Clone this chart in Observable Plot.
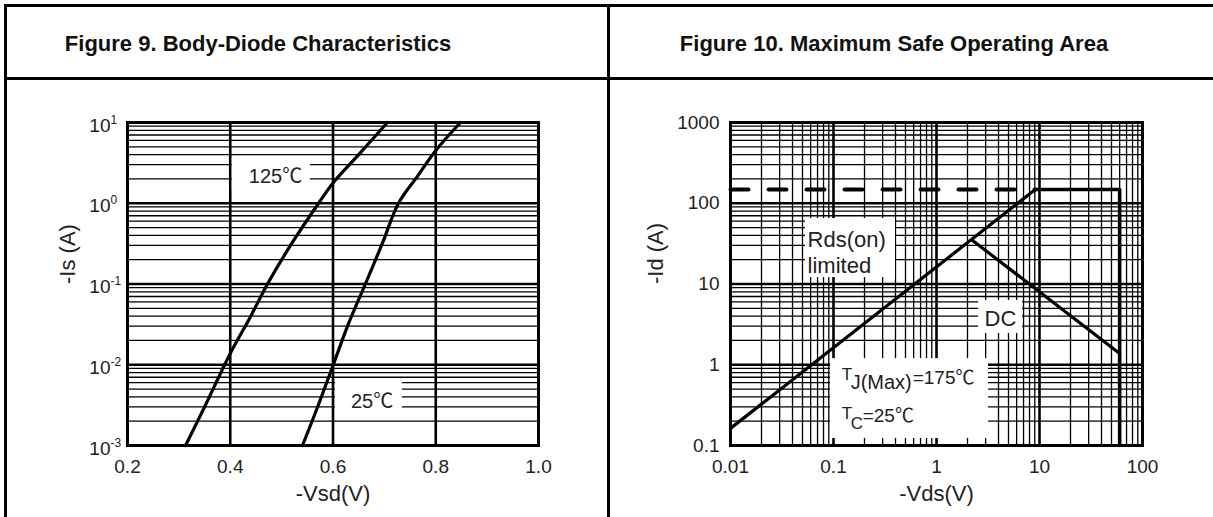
<!DOCTYPE html>
<html><head><meta charset="utf-8">
<script src="https://cdn.jsdelivr.net/npm/d3@7"></script>
<script src="https://cdn.jsdelivr.net/npm/@observablehq/plot@0.6"></script>
<style>
body{margin:0;background:#fff;}
#wrap{position:relative;width:1213px;height:517px;overflow:hidden;font-family:"Liberation Sans",Arial,sans-serif;background:#fff;}
.ln{position:absolute;background:#000;}
.title{position:absolute;font-weight:bold;font-size:22px;line-height:22px;top:33px;white-space:nowrap;color:#111;transform:translateX(-50%);}
.chart{position:absolute;top:70px;}
</style>
</head><body>
<div id="wrap">
  <div class="ln" style="left:4px;top:4px;width:1209px;height:3px"></div>
  <div class="ln" style="left:4px;top:77px;width:1209px;height:3px"></div>
  <div class="ln" style="left:4px;top:4px;width:3px;height:513px"></div>
  <div class="ln" style="left:607px;top:4px;width:3px;height:513px"></div>
  <div class="title" style="left:258px">Figure 9. Body-Diode Characteristics</div>
  <div class="title" style="left:894px">Figure 10. Maximum Safe Operating Area</div>
  <div class="chart" id="c1" style="left:0px"></div>
  <div class="chart" id="c2" style="left:610px"></div>
</div>
<script>
// ---------- Figure 9 data ----------
const vsdTicks = [0.2, 0.4, 0.6, 0.8, 1.0];
const vsdGrid = [0.4, 0.6, 0.8];
const isDecades = [-3, -2, -1, 0, 1];
const v125 = [0.313, 0.35, 0.4, 0.44, 0.4725, 0.52, 0.572, 0.6, 0.65, 0.706];
const i125 = [0.001, 0.003, 0.0138, 0.04, 0.1, 0.32, 1, 1.78, 4.0, 10];
const v25 = [0.5406, 0.57, 0.6, 0.63, 0.663, 0.696, 0.7275, 0.765, 0.8, 0.848];
const i25 = [0.001, 0.003, 0.0098, 0.032, 0.1, 0.318, 1, 2.18, 4.5, 10];
const curveLabels = ["125℃", "25℃"];
const curveLabelV = [0.488, 0.676];
const curveLabelI = [2.14, 0.00346];
const curveBoxV1 = [0.404, 0.605];
const curveBoxV2 = [0.556, 0.735];
const curveBoxI1 = [1.44, 0.00235];
const curveBoxI2 = [3.58, 0.00638];

// ---------- Figure 10 data ----------
const vdsTicks = [0.01, 0.1, 1, 10, 100];
const idTicks = [0.1, 1, 10, 100, 1000];
const rdsV = [0.01, 9.1];
const rdsI = [0.163, 148];
const limV = [0.01, 9.1];
const limI = [148, 148];
const pkgV = [9.1, 60, 60];
const pkgI = [148, 148, 0.1];
const dcV = [2.24, 60];
const dcI = [34.6, 1.38];

const FONT = "Liberation Sans, Arial, Noto Sans CJK SC, sans-serif";
const pts = (xs, ys) => xs.map((x, i) => ({x, y: ys[i]}));
const minorOf = (decs) => decs.slice(0, -1).flatMap(e => d3.range(2, 10).map(k => k * 10 ** e));

// ---------------- Figure 9 ----------------
const boxes1 = curveLabels.map((t, i) => ({x1: curveBoxV1[i], x2: curveBoxV2[i], y1: curveBoxI1[i], y2: curveBoxI2[i]}));
const labels1 = curveLabels.map((t, i) => ({t, x: curveLabelV[i], y: curveLabelI[i]}));
const p1 = Plot.plot({
  width: 607, height: 447,
  marginLeft: 127, marginRight: 69, marginTop: 52, marginBottom: 72,
  style: {fontFamily: FONT, background: "transparent", color: "#222"},
  x: {domain: [0.2, 1.0]},
  y: {type: "log", domain: [0.001, 10]},
  marks: [
    Plot.ruleY(minorOf(isDecades), {stroke: "#000", strokeWidth: 1.3}),
    Plot.ruleY(isDecades.map(e => 10 ** e), {stroke: "#000", strokeWidth: 2.6}),
    Plot.ruleX(vsdGrid, {stroke: "#000", strokeWidth: 2.6}),
    Plot.rect(boxes1, {x1: "x1", x2: "x2", y1: "y1", y2: "y2", fill: "#fff"}),
    Plot.text(labels1, {x: "x", y: "y", text: "t", fontSize: 20, fill: "#222"}),
    Plot.line(pts(v125, i125), {x: "x", y: "y", stroke: "#000", strokeWidth: 3.2, curve: "catmull-rom"}),
    Plot.line(pts(v25, i25), {x: "x", y: "y", stroke: "#000", strokeWidth: 3.2, curve: "catmull-rom"}),
    Plot.frame({stroke: "#000", strokeWidth: 3}),
    Plot.axisX(vsdTicks, {tickSize: 0, tickPadding: 14, fontSize: 19, tickFormat: d3.format(".1f"), label: null}),
    Plot.axisY([], {label: null}),
    Plot.text(isDecades, {y: e => 10 ** e, frameAnchor: "left", text: () => "10", textAnchor: "end", dx: -17, dy: 3, fontSize: 19, fill: "#222"}),
    Plot.text(isDecades, {y: e => 10 ** e, frameAnchor: "left", text: e => String(e), textAnchor: "start", lineAnchor: "bottom", dx: -17, dy: 1, fontSize: 12, fill: "#222"}),
    Plot.text(["-Vsd(V)"], {frameAnchor: "bottom", dy: 55, fontSize: 22, fill: "#222"}),
    Plot.text(["-Is (A)"], {frameAnchor: "left", dx: -60, rotate: -90, fontSize: 22, fill: "#222"})
  ]
});
document.getElementById("c1").append(p1);

// ---------------- Figure 10 ----------------
const decV = [-2, -1, 0, 1, 2];
const decI = [-1, 0, 1, 2, 3];
const annBoxes = [
  {x1: 0.0535, x2: 0.40, y1: 12.0, y2: 64.7},
  {x1: 2.56, x2: 6.84, y1: 2.44, y2: 6.25},
  {x1: 0.0936, x2: 3.2, y1: 0.122, y2: 1.19}
];
const p2 = Plot.plot({
  width: 603, height: 447,
  marginLeft: 120, marginRight: 71, marginTop: 52, marginBottom: 72,
  style: {fontFamily: FONT, background: "transparent", color: "#222"},
  x: {type: "log", domain: [0.01, 100]},
  y: {type: "log", domain: [0.1, 1000]},
  marks: [
    Plot.ruleX(minorOf(decV), {stroke: "#000", strokeWidth: 1.3}),
    Plot.ruleY(minorOf(decI), {stroke: "#000", strokeWidth: 1.3}),
    Plot.ruleX(vdsTicks, {stroke: "#000", strokeWidth: 2.6}),
    Plot.ruleY(idTicks, {stroke: "#000", strokeWidth: 2.6}),
    Plot.rect(annBoxes, {x1: "x1", x2: "x2", y1: "y1", y2: "y2", fill: "#fff"}),
    Plot.text(["Rds(on)\nlimited"], {x: 0.056, y: 25.2, textAnchor: "start", lineHeight: 1.2, fontSize: 22, fill: "#222"}),
    Plot.text(["DC"], {x: 4.18, y: 3.74, fontSize: 22, fill: "#222"}),
    Plot.text(["T"], {x: 0.12, y: 0.65, textAnchor: "start", lineAnchor: "bottom", fontSize: 17, fill: "#222"}),
    Plot.text(["J(Max)"], {x: 0.12, y: 0.65, textAnchor: "start", lineAnchor: "bottom", dx: 9, dy: 9, fontSize: 20, fill: "#222"}),
    Plot.text(["=175℃"], {x: 0.12, y: 0.65, textAnchor: "start", lineAnchor: "bottom", dx: 71, dy: 4, fontSize: 19, fill: "#222"}),
    Plot.text(["T"], {x: 0.12, y: 0.215, textAnchor: "start", lineAnchor: "bottom", fontSize: 17, fill: "#222"}),
    Plot.text(["C"], {x: 0.12, y: 0.215, textAnchor: "start", lineAnchor: "bottom", dx: 9, dy: 10, fontSize: 17, fill: "#222"}),
    Plot.text(["=25℃"], {x: 0.12, y: 0.215, textAnchor: "start", lineAnchor: "bottom", dx: 21, dy: 3, fontSize: 19, fill: "#222"}),
    Plot.line(pts(limV, limI), {x: "x", y: "y", stroke: "#000", strokeWidth: 4, strokeDasharray: "18,20"}),
    Plot.line(pts(rdsV, rdsI), {x: "x", y: "y", stroke: "#000", strokeWidth: 3.2}),
    Plot.line(pts(pkgV, pkgI), {x: "x", y: "y", stroke: "#000", strokeWidth: 3.6}),
    Plot.line(pts(dcV, dcI), {x: "x", y: "y", stroke: "#000", strokeWidth: 3.2}),
    Plot.frame({stroke: "#000", strokeWidth: 3}),
    Plot.axisX(vdsTicks, {tickSize: 0, tickPadding: 14, fontSize: 19, tickFormat: d => String(d), label: null}),
    Plot.axisY(idTicks, {tickSize: 0, tickPadding: 11, fontSize: 19, tickFormat: d => String(d), label: null}),
    Plot.text(["-Vds(V)"], {frameAnchor: "bottom", dy: 55, fontSize: 22, fill: "#222"}),
    Plot.text(["-Id (A)"], {frameAnchor: "left", dx: -75, rotate: -90, fontSize: 22, fill: "#222"})
  ]
});
document.getElementById("c2").append(p2);
</script>
</body></html>
